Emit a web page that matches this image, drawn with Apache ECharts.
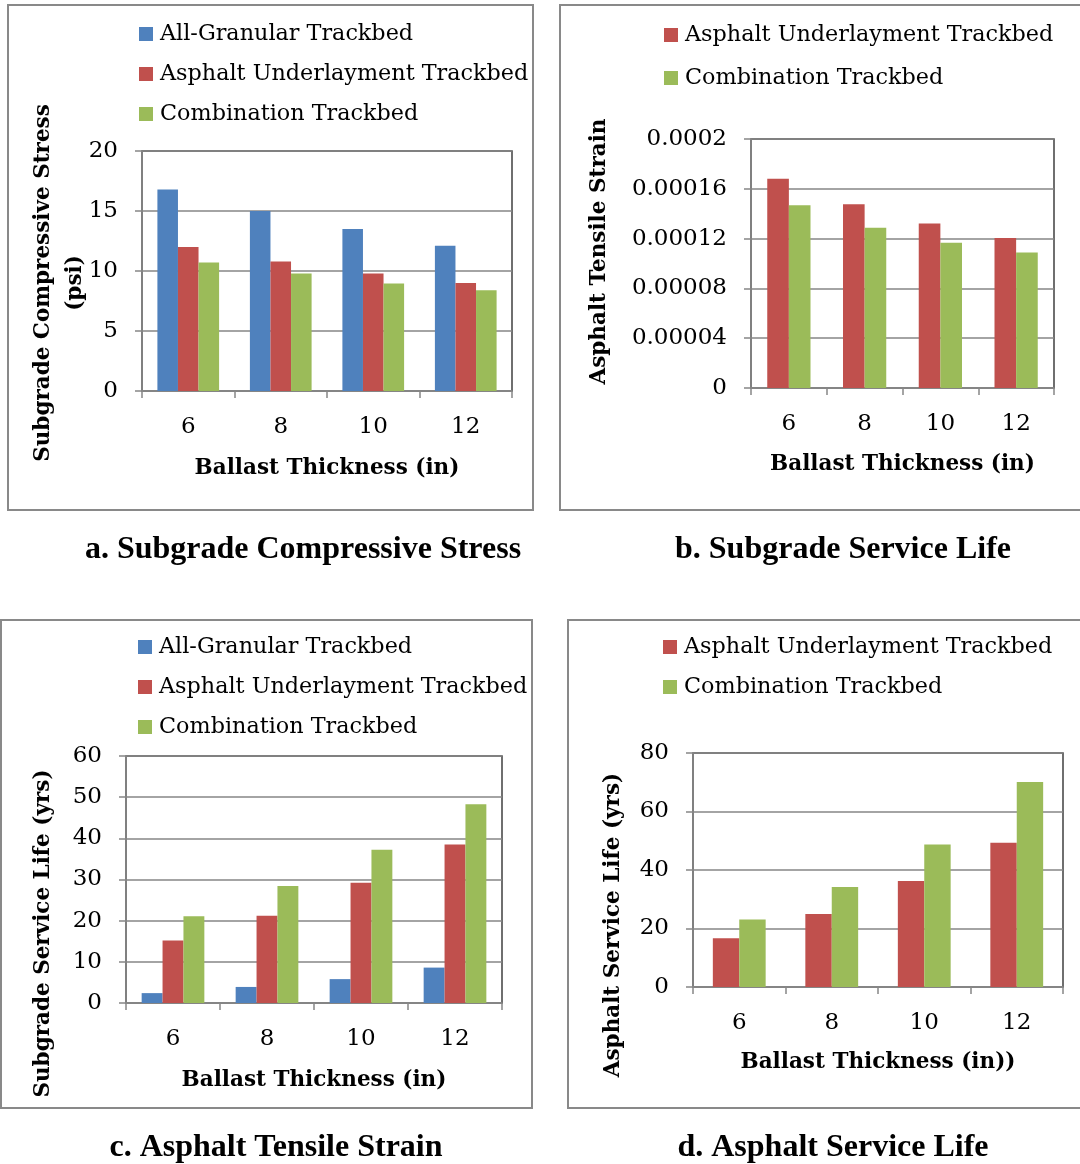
<!DOCTYPE html>
<html><head><meta charset="utf-8">
<script src="https://cdn.jsdelivr.net/npm/echarts@6/dist/echarts.min.js"></script>
<style>html,body{margin:0;padding:0;background:#fff}#c{width:1080px;height:1164px}</style>
</head><body><div id="c"></div>
<script>
// ---- data ----
const categories = ['6', '8', '10', '12'];
const seriesNames = ['All-Granular Trackbed', 'Asphalt Underlayment Trackbed', 'Combination Trackbed'];
// a. compressive stress (psi)
const stressAllGranular = [16.8, 15.0, 13.5, 12.1];
const stressAsphalt = [12.0, 10.8, 9.8, 9.0];
const stressCombination = [10.7, 9.8, 8.95, 8.4];
// b. asphalt tensile strain
const strainAsphalt = [0.000168, 0.0001475, 0.0001322, 0.0001205];
const strainCombination = [0.0001467, 0.0001288, 0.0001167, 0.0001089];
const strainTickLabels = ['0', '0.00004', '0.00008', '0.00012', '0.00016', '0.0002'];
// c. subgrade service life (yrs)
const subLifeAllGranular = [2.4, 3.9, 5.8, 8.6];
const subLifeAsphalt = [15.2, 21.2, 29.2, 38.5];
const subLifeCombination = [21.1, 28.4, 37.2, 48.3];
// d. asphalt service life (yrs)
const asphLifeAsphalt = [16.7, 25.0, 36.2, 49.3];
const asphLifeCombination = [23.1, 34.2, 48.7, 70.1];
const captions = ['a. Subgrade Compressive Stress', 'b. Subgrade Service Life', 'c. Asphalt Tensile Strain', 'd. Asphalt Service Life'];

// ---- styling ----
const colors = ['#4F81BD', '#C0504D', '#9BBB59'];
const grey = '#868686';
const serif = 'DejaVu Serif';
const grids = [
  {left: 142, top: 151, width: 370, height: 240},
  {left: 751, top: 139, width: 303, height: 249},
  {left: 126, top: 756, width: 376, height: 247},
  {left: 693, top: 753, width: 370, height: 234}
].map(g => Object.assign({show: true, borderColor: '#404040', borderWidth: 1.5, backgroundColor: '#fff'}, g));

function xAxis(i, name, gap) {
  return {
    type: 'category', gridIndex: i, data: categories,
    axisLine: {lineStyle: {color: grey, width: 1.5}},
    axisTick: {show: true, length: 7, lineStyle: {color: grey, width: 1.5}},
    axisLabel: {color: '#000', fontFamily: serif, fontSize: 23, margin: 25},
    name: name, nameLocation: 'middle', nameGap: gap,
    nameTextStyle: {color: '#000', fontFamily: serif, fontWeight: 'bold', fontSize: 21.5}
  };
}
function yAxis(i, max, interval, name, gap, pad, lh, fmt) {
  return {
    type: 'value', gridIndex: i, min: 0, max: max, interval: interval,
    axisLine: {show: true, lineStyle: {color: grey, width: 1.5}},
    axisTick: {show: true, length: 7, lineStyle: {color: grey, width: 1.5}},
    splitLine: {show: true, lineStyle: {color: grey, width: 1.5}},
    axisLabel: {color: '#000', fontFamily: serif, fontSize: 23, margin: 24, formatter: fmt},
    name: name, nameLocation: 'middle', nameGap: gap,
    nameTextStyle: {color: '#000', fontFamily: serif, fontWeight: 'bold', fontSize: 21.5, lineHeight: lh, padding: pad}
  };
}
function legend(left, top, gap, names) {
  return {
    orient: 'vertical', left: left, top: top, padding: 0, itemGap: gap,
    itemWidth: 14, itemHeight: 14, icon: 'rect', data: names,
    textStyle: {color: '#000', fontFamily: serif, fontSize: 22.3, lineHeight: 26, padding: [0, 0, 0, 2]}
  };
}
function bar(name, data, xi, yi, colorIdx, catGap) {
  return {
    type: 'bar', name: name, data: data, xAxisIndex: xi, yAxisIndex: yi,
    barGap: '0%', barCategoryGap: catGap, itemStyle: {color: colors[colorIdx]},
    animation: false
  };
}

const boxes = [
  {x: 8, y: 5, width: 525, height: 505},
  {x: 560, y: 5, width: 530, height: 505},
  {x: 1, y: 620, width: 531, height: 488},
  {x: 568, y: 620, width: 530, height: 488}
];
const captionPos = [[303, 550], [843, 550], [276, 1148], [833, 1148]];

const graphic = [];
boxes.forEach(b => graphic.push({type: 'rect', shape: b, style: {fill: 'none', stroke: '#898989', lineWidth: 2}, z: -10}));
captions.forEach((t, i) => graphic.push({type: 'text', x: captionPos[i][0], y: captionPos[i][1],
  style: {text: t, font: 'bold 32px "Liberation Serif"', fill: '#000', textAlign: 'center', textVerticalAlign: 'middle'}}));

const yA = yAxis(0, 20, 5, 'Subgrade Compressive Stress\n(psi)', 51, [0, 24, 0, 0], 32);
yA.nameMoveOverlap = false;

const option = {
  animation: false,
  backgroundColor: '#fff',
  grid: grids,
  legend: [
    legend(139, 21, 14, seriesNames),
    legend(664, 22, 17, seriesNames.slice(1)),
    legend(138, 634, 14, seriesNames),
    legend(663, 634, 14, seriesNames.slice(1))
  ],
  xAxis: [
    xAxis(0, 'Ballast Thickness (in)', 66),
    xAxis(1, 'Ballast Thickness (in)', 65),
    xAxis(2, 'Ballast Thickness (in)', 66),
    xAxis(3, 'Ballast Thickness (in))', 64)
  ],
  yAxis: [
    yA,
    yAxis(1, 0.0002, 0.00004, 'Asphalt Tensile Strain', 139, [0, 0, 0, 24], 26,
      v => strainTickLabels[Math.round(v / 0.00004)]),
    yAxis(2, 60, 10, 'Subgrade Service Life (yrs)', 70, [0, 108, 0, 0], 26),
    yAxis(3, 80, 20, 'Asphalt Service Life (yrs)', 67, [0, 110, 0, 0], 26)
  ],
  series: [
    bar(seriesNames[0], stressAllGranular, 0, 0, 0, '33.3%'),
    bar(seriesNames[1], stressAsphalt, 0, 0, 1, '33.3%'),
    bar(seriesNames[2], stressCombination, 0, 0, 2, '33.3%'),
    bar(seriesNames[1], strainAsphalt, 1, 1, 1, '42.9%'),
    bar(seriesNames[2], strainCombination, 1, 1, 2, '42.9%'),
    bar(seriesNames[0], subLifeAllGranular, 2, 2, 0, '33.3%'),
    bar(seriesNames[1], subLifeAsphalt, 2, 2, 1, '33.3%'),
    bar(seriesNames[2], subLifeCombination, 2, 2, 2, '33.3%'),
    bar(seriesNames[1], asphLifeAsphalt, 3, 3, 1, '42.9%'),
    bar(seriesNames[2], asphLifeCombination, 3, 3, 2, '42.9%')
  ],
  graphic: graphic
};
const chart = echarts.init(document.getElementById('c'), null, {renderer: 'canvas'});
chart.setOption(option);
</script></body></html>
